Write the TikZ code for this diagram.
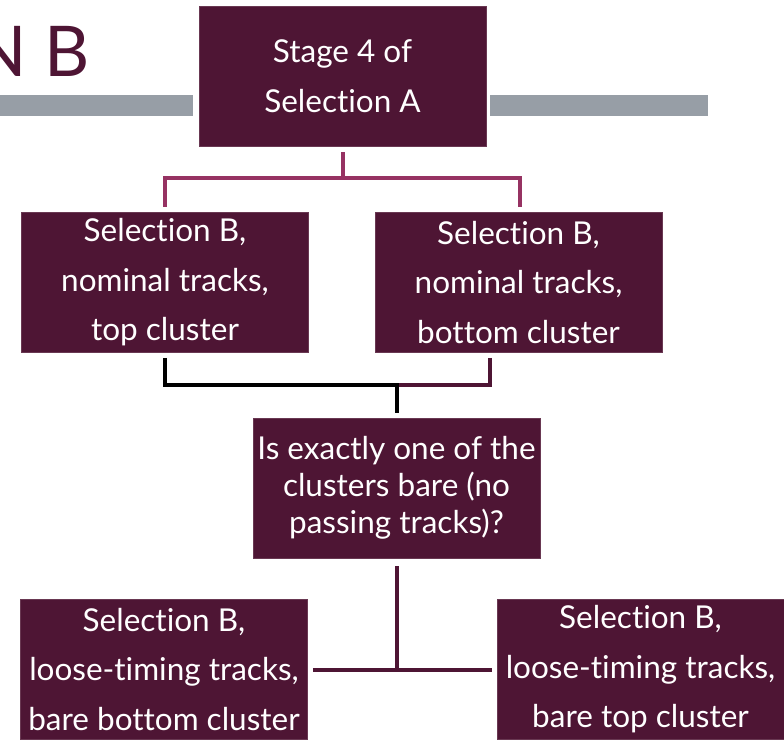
\documentclass[tikz,border=0pt]{standalone}
\usepackage{fontspec}
\setmainfont[Ligatures=NoCommon]{Lato}
\definecolor{maroon}{RGB}{78,21,52}
\definecolor{rose}{RGB}{150,50,98}
\definecolor{bargrey}{RGB}{151,158,166}

\begin{document}
\begin{tikzpicture}[
  x=1pt,y=-1pt,
  stagebox/.style={rectangle,fill=maroon,draw=maroon!85!white,line width=0.6pt,
    minimum width=287pt,minimum height=140pt,inner sep=0pt,
    text=white,align=center,font=\fontsize{31.5}{49.5}\selectfont},
  tierose/.style={draw=rose,line width=4pt},
  tieblack/.style={draw=black,line width=4pt},
  tiemaroon/.style={draw=maroon,line width=4pt}
]
  \useasboundingbox (0,0) rectangle (784,740);
  % heading and rule
  \node[anchor=base east,inner sep=0pt,text=maroon,font=\fontsize{70}{70}\selectfont] (title) at (90,76) {N B};
  \fill[bargrey] (0,95) rectangle (193,116);
  \fill[bargrey] (490,95) rectangle (708,116);
  % boxes
  \node[stagebox] (stage) at (342.5,76) {Stage 4 of\\Selection A};
  \node[stagebox] (selTop) at (165,282.5) {Selection B,\\nominal tracks,\\top cluster};
  \node[stagebox] (selBot) at (518.5,282.5) {Selection B,\\nominal tracks,\\bottom cluster};
  \node[stagebox,font=\fontsize{31.5}{37}\selectfont] (bare) at (396.5,488) {Is exactly one of the\\clusters bare (no\\passing tracks)?};
  \node[stagebox] (looseBot) at (164,669.5) {Selection B,\\loose-timing tracks,\\bare bottom cluster};
  \node[stagebox] (looseTop) at (640.5,669.5) {Selection B,\\loose-timing tracks,\\bare top cluster};
  % connectors
  \coordinate (fork) at (342.5,178);
  \coordinate (join) at (396.5,385);
  \coordinate (split) at (396.5,668);
  \draw[tierose,shorten <=6pt,shorten >=5pt] (stage.south) -- (fork) -| (selTop.north);
  \draw[tierose,shorten >=5pt] (fork) -| ([xshift=1.5pt]selBot.north);
  \draw[tiemaroon,shorten <=5pt] ([xshift=-28.5pt]selBot.south) |- (join);
  \draw[tieblack,shorten <=5pt,shorten >=5pt] (selTop.south) |- (join) -- (bare.north);
  \draw[tiemaroon,shorten <=8pt] (bare.south) -- (split);
  \draw[tiemaroon,shorten <=5pt,shorten >=5pt] (looseBot.east) -- (looseTop.west);
\end{tikzpicture}
\end{document}
